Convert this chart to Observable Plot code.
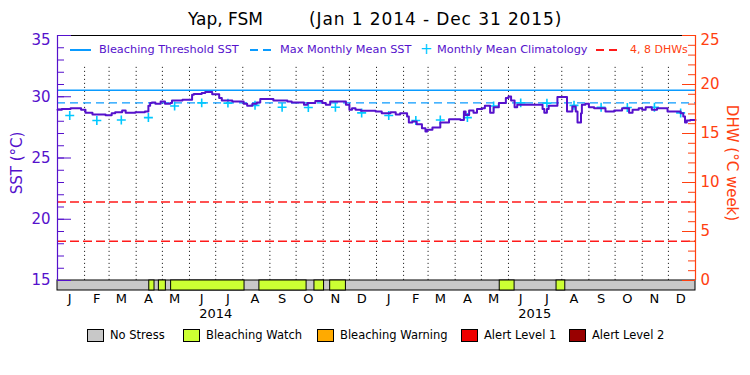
<!DOCTYPE html>
<html><head><meta charset="utf-8">
<script src="https://cdn.jsdelivr.net/npm/d3@7"></script>
<script src="https://cdn.jsdelivr.net/npm/@observablehq/plot@0.6"></script>
<style>
body{margin:0;background:#fff;font-family:"DejaVu Sans",sans-serif}
#wrap{position:relative;width:750px;height:375px;overflow:hidden;background:#fff}
#wrap svg{position:absolute;left:0;top:0}
.abs{position:absolute;white-space:nowrap;line-height:1}
</style></head><body><div id="wrap"></div>
<script>
const titleName = "Yap, FSM";
const titlePeriod = "(Jan 1 2014 - Dec 31 2015)";
const monthLetters = ["J","F","M","A","M","J","J","A","S","O","N","D"];
const years = [2014, 2015];
// Monthly mean climatology (°C), Jan..Dec
const climatology = [28.47, 28.06, 28.10, 28.30, 29.25, 29.50, 29.48, 29.30, 29.14, 29.12, 29.14, 28.68];
const mmm = 29.5;          // Max Monthly Mean SST
const threshold = 30.53;   // Bleaching Threshold SST
const dhwLevels = [4, 8];  // DHW reference lines
// Daily SST: day offset from 2014-01-01 and value (°C)
const sstDay = [0,5,15,27,32,40,55,62,66,74,78,89,100,104,106,108,112,118,123,129,131,143,154,156,165,169,177,
  185,188,200,213,217,223,228,232,247,263,268,282,286,295,303,307,312,330,334,337,341,347,364,
  371,381,387,392,400,402,406,411,417,421,423,429,438,448,461,465,467,471,476,480,486,489,495,499,505,513,516,519,523,526,
  555,557,560,562,572,583,589,593,595,599,600,604,608,614,627,637,646,654,658,665,669,673,680,686,698,713,716,718,720,724,730];
const sstValue = [28.93,28.99,29.07,28.93,28.70,28.55,28.50,28.66,28.74,28.88,28.70,28.74,28.80,29.26,29.48,29.53,29.43,29.62,29.43,29.48,29.70,29.75,30.16,30.22,30.30,30.38,30.20,
  29.89,29.70,29.62,29.43,29.26,29.43,29.53,29.81,29.70,29.62,29.53,29.34,29.48,29.65,29.48,29.34,29.62,29.34,28.93,29.07,28.93,28.85,28.80,
  28.66,28.74,28.55,28.66,28.39,27.90,27.98,27.76,27.43,27.16,27.30,27.49,27.90,28.17,28.11,28.80,28.52,28.88,28.70,28.99,29.07,29.26,28.70,29.15,29.48,29.89,30.03,29.70,29.15,29.34,
  28.99,28.70,29.00,29.26,29.97,28.80,29.21,28.80,27.90,28.66,29.34,29.43,29.15,29.07,28.80,28.88,29.07,28.70,28.93,29.07,28.93,29.15,28.93,29.07,28.80,28.66,28.39,27.90,28.06,28.11,28.11];
// Bleaching Watch periods (everything else: No Stress)
const watchStart = ["2014-04-16","2014-04-27","2014-05-11","2014-08-20","2014-10-22","2014-11-09","2015-05-22","2015-07-26"];
const watchEnd   = ["2014-04-22","2014-05-05","2014-08-03","2014-10-13","2014-11-02","2014-11-27","2015-06-08","2015-08-05"];
const stressNames = ["No Stress","Bleaching Watch","Bleaching Warning","Alert Level 1","Alert Level 2"];
const stressColors = ["#c8c8c8","#ccff33","#ffaa00","#ee0000","#990000"];
const sstTicks = [15,20,25,30,35];
const dhwTicks = [0,5,10,15,20,25];

const purple = "#5511cc", blue = "#0a9bff", cyan = "#00c8ff", red = "#ff1a1a", orange = "#ff4010";
const W = 750, H = 375, mL = 57, mR = 55, mT = 35, mB = 85;
const plotW = W - mL - mR, plotH = H - mT - mB;
const barPx = 10;
const yMin = (plotH*15 - barPx*35) / (plotH - barPx);
const dhwToSst = d => 15 + d * 20 / 25;
const sstTop = sstTicks[sstTicks.length - 1];

const t0 = Date.UTC(2014,0,1);
const day = d => new Date(t0 + d*864e5);
const sst = sstDay.map((d,i) => ({date: day(d), v: sstValue[i]}));
const clim = d3.range(24).map(i => ({date: new Date(Date.UTC(2014, i, 15)), v: climatology[i % 12]}));
const monthStarts = d3.range(1, 24).map(i => new Date(Date.UTC(2014, i, 1)));
const monthMid = d3.range(24).map(i => new Date(Date.UTC(2014, i, 15)));
const yearMid = years.map(y => new Date(Date.UTC(y, 6, 1)));
const watch = watchStart.map((s,i) => ({s: new Date(s), e: new Date(watchEnd[i])}));

const plot = Plot.plot({
  width: W, height: H, marginLeft: mL, marginRight: mR, marginTop: mT, marginBottom: mB,
  style: {fontFamily: "DejaVu Sans", background: "transparent", overflow: "visible"},
  x: {type: "utc", domain: [day(0), day(730)]},
  y: {domain: [yMin, 35]},
  marks: [
    Plot.ruleX(monthStarts, {y1: 32.4, y2: 15, stroke: "#000", strokeDasharray: "1,3"}),
    Plot.ruleY(dhwLevels, {y: dhwToSst, stroke: red, strokeWidth: 1.5, strokeDasharray: "9,4"}),
    Plot.ruleY([mmm], {stroke: blue, strokeWidth: 1.3, strokeDasharray: "8,5"}),
    Plot.ruleY([threshold], {stroke: blue, strokeWidth: 1.5}),
    Plot.dot(clim, {x: "date", y: "v", symbol: "plus", r: 3, stroke: cyan, strokeWidth: 1.6}),
    Plot.line(sst, {x: "date", y: "v", curve: "step-after", stroke: purple, strokeWidth: 2}),
    Plot.rect([{s: day(0), e: day(730)}], {x1: "s", x2: "e", y1: yMin, y2: 15, fill: stressColors[0], stroke: "#000"}),
    Plot.rect(watch, {x1: "s", x2: "e", y1: yMin, y2: 15, fill: stressColors[1], stroke: "#000"}),
    Plot.ruleY([35], {stroke: "#000", strokeWidth: 1.2}),
    Plot.ruleX([day(0)], {y1: 15, y2: 35, stroke: purple, strokeWidth: 1.2}),
    Plot.ruleX([day(730)], {y1: 15, y2: 35, stroke: orange, strokeWidth: 1.2}),
    Plot.ruleY(d3.range(15, 36), {stroke: purple, insetRight: plotW - 7}),
    Plot.ruleY(sstTicks, {stroke: purple, insetRight: plotW - 14}),
    Plot.ruleY(d3.range(0, 26), {y: dhwToSst, stroke: orange, insetLeft: plotW - 7}),
    Plot.ruleY(dhwTicks, {y: dhwToSst, stroke: orange, insetLeft: plotW - 13}),
    Plot.axisY({anchor: "left", ticks: sstTicks.slice(0, -1), tickSize: 0, tickPadding: 7, fontSize: 15, color: purple, label: null}),
    Plot.axisY({anchor: "left", ticks: [sstTop], tickSize: 0, tickPadding: 7, dy: 5, fontSize: 15, color: purple, label: null}),
    Plot.axisY({anchor: "right", ticks: dhwTicks.slice(0, -1).map(dhwToSst), tickFormat: v => Math.round((v - 15) * 25 / 20), tickSize: 0, tickPadding: 5, fontSize: 15, color: orange, label: null}),
    Plot.axisY({anchor: "right", ticks: [dhwToSst(dhwTicks[dhwTicks.length - 1])], tickFormat: v => Math.round((v - 15) * 25 / 20), tickSize: 0, tickPadding: 5, dy: 5, fontSize: 15, color: orange, label: null}),
    Plot.axisX({ticks: monthMid, tickFormat: d => monthLetters[d.getUTCMonth()], tickSize: 0, tickPadding: 3, fontSize: 13, label: null}),
    Plot.axisX({ticks: yearMid, tickFormat: d => String(d.getUTCFullYear()), tickSize: 0, tickPadding: 18, fontSize: 13, label: null}),
    Plot.text(["SST (°C)"], {frameAnchor: "left", textAnchor: "middle", dx: -40, rotate: -90, fontSize: 15, fill: purple}),
    Plot.text(["DHW (°C week)"], {frameAnchor: "right", textAnchor: "middle", dx: 36, rotate: 90, fontSize: 15, fill: orange})
  ]
});
const wrap = document.getElementById("wrap");
wrap.appendChild(plot);

function addText(txt, left, top, size, color, extra) {
  const d = document.createElement("div");
  d.className = "abs"; d.textContent = txt;
  d.style.left = left + "px"; d.style.top = top + "px";
  d.style.fontSize = size + "px"; d.style.color = color;
  if (extra) Object.assign(d.style, extra);
  wrap.appendChild(d); return d;
}
function addBox(left, top, w, h, style) {
  const d = document.createElement("div");
  d.className = "abs";
  Object.assign(d.style, {left: left + "px", top: top + "px", width: w + "px", height: h + "px", boxSizing: "border-box"}, style);
  wrap.appendChild(d); return d;
}
// title
addText(titleName, 188, 11, 17, "#000");
addText(titlePeriod, 309, 11, 17, "#000", {letterSpacing: "0.9px"});
// top legend
const ly = 50;
addBox(70, ly - 1, 21, 1.5, {background: blue});
addText("Bleaching Threshold SST", 99, ly - 6.5, 11.3, purple);
addBox(250, ly - 1, 8, 1.5, {background: blue});
addBox(263, ly - 1, 8, 1.5, {background: blue});
addText("Max Monthly Mean SST", 280, ly - 6.5, 11.3, purple);
addText("+", 420, ly - 8, 15, cyan);
addText("Monthly Mean Climatology", 437, ly - 6.5, 11.3, purple);
addBox(596, ly - 1, 8, 1.5, {background: red});
addBox(609, ly - 1, 8, 1.5, {background: red});
addText(dhwLevels.join(", ") + " DHWs", 630, ly - 6.5, 11, orange);
// bottom legend
const boxX = [87, 183, 317, 461, 569];
stressNames.forEach((n, i) => {
  addBox(boxX[i], 329, 17, 13, {background: stressColors[i], border: "1px solid #000"});
  addText(n, boxX[i] + 23, 329.5, 11.5, "#000");
});
</script></body></html>
